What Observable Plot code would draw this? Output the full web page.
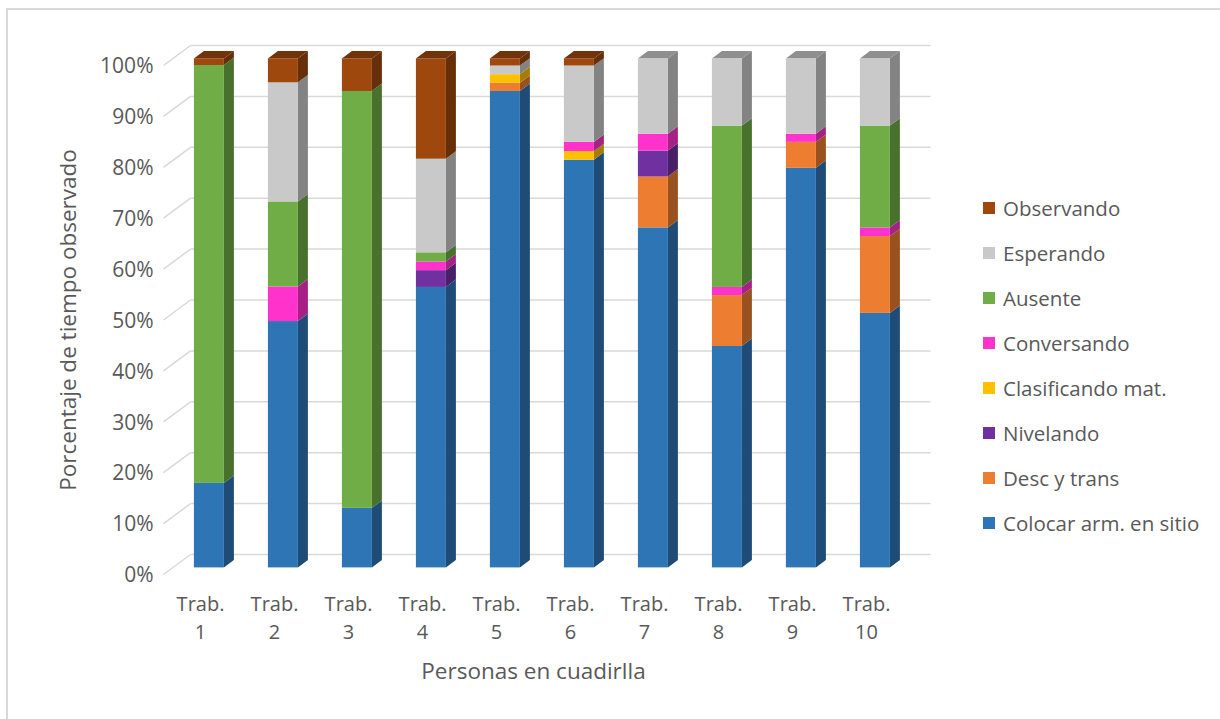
<!DOCTYPE html>
<html>
<head>
<meta charset="utf-8">
<script src="https://cdn.jsdelivr.net/npm/d3@7"></script>
<script src="https://cdn.jsdelivr.net/npm/@observablehq/plot@0.6"></script>
<style>
  html, body { margin: 0; padding: 0; background: #fff; overflow: hidden; }
  #wrap { position: relative; width: 1220px; height: 719px; font-family: "Open Sans", sans-serif; color: #595959; }
  #border { position: absolute; left: 6px; top: 8px; width: 1400px; height: 900px; border: 2px solid #d9d9d9; box-sizing: border-box; }
  #chart { position: absolute; left: 0; top: 0; }
  #legend { position: absolute; left: 983px; top: 186px; }
  .item { display: flex; align-items: center; height: 44.9px; font-size: 20.5px; white-space: nowrap; }
  .swatch { width: 12px; height: 12px; margin-right: 8px; flex: none; }
</style>
</head>
<body>
<div id="wrap">
  <div id="border"></div>
  <div id="chart"></div>
  <div id="legend"></div>
</div>
<script>
// Workers observed in the crew
const workers = [1, 2, 3, 4, 5, 6, 7, 8, 9, 10];
const workerLabels = workers.map(n => `Trab.\n${n}`);

// Activities, stacked bottom to top
const activities = [
  "Colocar arm. en sitio", "Desc y trans", "Nivelando", "Clasificando mat.",
  "Conversando", "Ausente", "Esperando", "Observando"
];
const activityColors = [
  "#2E75B6", "#ED7D31", "#7030A0", "#FFC000",
  "#FF33CC", "#70AD47", "#C9C9C9", "#9E480E"
];

// Share of observed time (%) per worker
const colocar      = [16.6, 48.4, 11.7, 55.1, 93.6, 80.1, 66.8, 43.5, 78.5, 50.0];
const descTrans    = [0, 0, 0, 0, 1.6, 0, 10.0, 10.0, 5.1, 15.1];
const nivelando    = [0, 0, 0, 3.3, 0, 0, 5.1, 0, 0, 0];
const clasificando = [0, 0, 0, 0, 1.7, 1.7, 0, 0, 0, 0];
const conversando  = [0, 6.8, 0, 1.7, 0, 1.8, 3.3, 1.6, 1.6, 1.7];
const ausente      = [82.1, 16.7, 81.9, 1.8, 0, 0, 0, 31.7, 0, 20.0];
const esperando    = [0, 23.4, 0, 18.4, 1.7, 15.0, 14.8, 13.2, 14.8, 13.2];
const observando   = [1.3, 4.7, 6.4, 19.7, 1.4, 1.4, 0, 0, 0, 0];

const yTicks = [0, 10, 20, 30, 40, 50, 60, 70, 80, 90, 100];

const seriesValues = [colocar, descTrans, nivelando, clasificando, conversando, ausente, esperando, observando];

// ---- layout of the 3-D box ----
const W = 1220, H = 719;
const xRange = [163, 903], yRange = [574, 65];
const xDomain = [0.5, 10.5], yDomain = [0, 100];
const pxPerX = (xRange[1] - xRange[0]) / (xDomain[1] - xDomain[0]);
const pxPerY = (yRange[0] - yRange[1]) / (yDomain[1] - yDomain[0]);
// receding direction of the floor (pixels for full depth)
const depthPx = {x: 27, y: 20};
const depth = d => ({dx: depthPx.x * d / pxPerX, dy: depthPx.y * d / pxPerY});
const back = depth(1);          // back wall
const barFront = depth(0.33);   // front face of the columns
const barBack = depth(0.70);    // rear face of the columns
const halfW = 15 / pxPerX;      // half width of a column

// ---- stacked segments ----
const segments = [];
workers.forEach((w, i) => {
  let acc = 0;
  seriesValues.forEach((vals, s) => {
    const v = vals[i];
    if (v > 0) {
      segments.push({worker: w, activity: activities[s], color: activityColors[s], y0: acc, y1: acc + v, id: `${w}-${s}`});
      acc += v;
    }
  });
});
const tops = workers.map(w => {
  const segs = segments.filter(d => d.worker === w);
  return segs[segs.length - 1];
});

const shade = (c, k) => d3.color(c).darker(k).formatHex();

// side faces: vertical-sided parallelograms
const sidePts = segments.flatMap(d => {
  const xa = d.worker + barFront.dx + halfW;
  const xb = d.worker + barBack.dx + halfW;
  const f = shade(d.color, 1.2);
  return [
    {id: d.id, x: xa, y1: d.y0 + barFront.dy, y2: d.y1 + barFront.dy, fill: f},
    {id: d.id, x: xb, y1: d.y0 + barBack.dy, y2: d.y1 + barBack.dy, fill: f}
  ];
});
// top faces: horizontal-sided parallelograms
const topPts = tops.flatMap(d => {
  const f = shade(d.color, 0.95);
  return [
    {id: d.id, y: d.y1 + barFront.dy, x1: d.worker + barFront.dx - halfW, x2: d.worker + barFront.dx + halfW, fill: f},
    {id: d.id, y: d.y1 + barBack.dy, x1: d.worker + barBack.dx - halfW, x2: d.worker + barBack.dx + halfW, fill: f}
  ];
});

const grid = "#d9d9d9";
const textColor = "#595959";

const chart = Plot.plot({
  width: W,
  height: H,
  marginLeft: xRange[0],
  marginRight: W - xRange[1],
  marginTop: yRange[1],
  marginBottom: H - yRange[0],
  x: {domain: xDomain, range: xRange, axis: null},
  y: {domain: yDomain, range: yRange, axis: null},
  color: {type: "identity"},
  style: {fontFamily: "'Open Sans', sans-serif", color: textColor, background: "transparent"},
  marks: [
    // side wall tick diagonals and back-wall gridlines
    Plot.link(yTicks, {x1: xDomain[0], y1: d => d, x2: xDomain[0] + back.dx, y2: d => d + back.dy, stroke: grid, strokeWidth: 1.5}),
    Plot.link(yTicks, {x1: xDomain[0] + back.dx, x2: xDomain[1] + back.dx, y1: d => d + back.dy, y2: d => d + back.dy, stroke: grid, strokeWidth: 1.5}),
    // column faces
    Plot.areaY(sidePts, {x: "x", y1: "y1", y2: "y2", z: "id", fill: "fill"}),
    Plot.areaX(topPts, {y: "y", x1: "x1", x2: "x2", z: "id", fill: "fill"}),
    Plot.rect(segments, {
      x1: d => d.worker + barFront.dx - halfW,
      x2: d => d.worker + barFront.dx + halfW,
      y1: d => d.y0 + barFront.dy,
      y2: d => d.y1 + barFront.dy,
      fill: "color"
    }),
    // y tick labels
    Plot.text(yTicks, {x: xDomain[0], y: d => d, text: d => `${d}%`, textAnchor: "end", dx: -10, dy: 1, fontSize: 21, fill: textColor}),
    // x tick labels
    Plot.text(workers, {x: d => d, y: 0, text: (d, i) => workerLabels[i], lineAnchor: "top", dy: 17, lineHeight: 1.4, fontSize: 20, fill: textColor}),
    // axis titles
    Plot.text(["Porcentaje de tiempo observado"], {x: xDomain[0] - 95 / pxPerX, y: (yDomain[0] + yDomain[1]) / 2, rotate: -90, fontSize: 22.5, fill: textColor}),
    Plot.text(["Personas en cuadirlla"], {frameAnchor: "bottom", dy: 104, fontSize: 22.5, fill: textColor})
  ]
});
document.getElementById("chart").appendChild(chart);

// legend, top entry = top of the stack
const legend = d3.select("#legend");
activities.map((a, i) => ({a, c: activityColors[i]})).reverse().forEach(({a, c}) => {
  const row = legend.append("div").attr("class", "item");
  row.append("div").attr("class", "swatch").style("background", c);
  row.append("span").text(a);
});
</script>
</body>
</html>
